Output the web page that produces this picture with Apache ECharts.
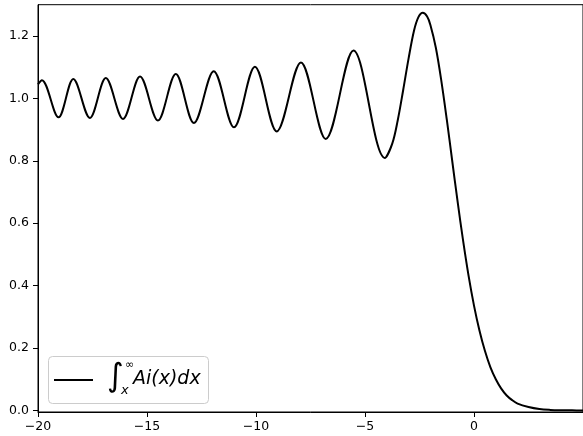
<!DOCTYPE html>
<html>
<head>
<meta charset="utf-8">
<script src="https://cdn.jsdelivr.net/npm/echarts@6/dist/echarts.min.js"></script>
<style>
  html, body { margin: 0; padding: 0; background: #fff; }
  #chart { width: 583px; height: 436px; }
</style>
</head>
<body>
<div id="chart"></div>
<script>
// Integral of the Airy function from x to infinity.
// Oscillating part: one sample per crest / trough; main peak, fall and tail sampled densely.
const xValues = [
  -20, -19.82, -19.06, -18.38, -17.62, -16.89, -16.10, -15.32, -14.50, -13.68,
  -12.85, -11.94, -11.01, -10.05, -9.05, -7.94, -6.80, -5.53, -4.09,
  -3.75, -3.50, -3.25, -3.00, -2.75, -2.55, -2.35, -2.15, -2.00, -1.75, -1.50,
  -1.25, -1.00, -0.75, -0.50, -0.25, 0.00, 0.25, 0.50, 0.75, 1.00,
  1.25, 1.50, 1.75, 2.00, 2.50, 3.00, 3.50, 4.00, 4.50, 5.00
];
const integralValues = [
  1.045, 1.058, 0.939, 1.062, 0.937, 1.065, 0.934, 1.070, 0.929, 1.078,
  0.921, 1.087, 0.907, 1.101, 0.894, 1.115, 0.870, 1.153, 0.809,
  0.855, 0.929, 1.026, 1.128, 1.217, 1.260, 1.274, 1.262, 1.235, 1.162, 1.057,
  0.933, 0.800, 0.668, 0.544, 0.432, 0.336, 0.256, 0.191, 0.139, 0.100,
  0.070, 0.048, 0.033, 0.022, 0.011, 0.0045, 0.0018, 0.0007, 0.0003, 0.0001
];
const xTicks = [-20, -15, -10, -5, 0];
const yTicks = [0.0, 0.2, 0.4, 0.6, 0.8, 1.0, 1.2];

const seriesData = xValues.map((x, i) => [x, integralValues[i]]);
const fmtMinus = v => (v < 0 ? '\u2212' + Math.abs(v) : String(v));

const chart = echarts.init(document.getElementById('chart'), null, { renderer: 'canvas' });
chart.setOption({
  animation: false,
  backgroundColor: '#ffffff',
  grid: {
    left: 38, top: 4.7, right: -5.3, bottom: 24,
    show: true, borderColor: '#000', borderWidth: 1, backgroundColor: 'transparent'
  },
  xAxis: {
    type: 'value', min: -20, max: 5,
    splitLine: { show: false },
    axisLine: { show: true, onZero: false, lineStyle: { color: '#000', width: 1 } },
    axisTick: { show: true, length: 5, lineStyle: { color: '#000' }, customValues: xTicks },
    axisLabel: {
      margin: 8, color: '#000', fontFamily: 'DejaVu Sans', fontSize: 12.5,
      customValues: xTicks, formatter: fmtMinus
    }
  },
  yAxis: {
    type: 'value', min: -0.005, max: 1.3,
    splitLine: { show: false },
    axisLine: { show: true, onZero: false, lineStyle: { color: '#000', width: 1 } },
    axisTick: { show: true, length: 5, lineStyle: { color: '#000' }, customValues: yTicks },
    axisLabel: {
      margin: 9, color: '#000', fontFamily: 'DejaVu Sans', fontSize: 12.5,
      customValues: yTicks, formatter: v => v.toFixed(1)
    }
  },
  series: [{
    name: 'integral',
    type: 'line',
    data: seriesData,
    smooth: 0.34,
    showSymbol: false,
    symbol: 'none',
    lineStyle: { color: '#000', width: 2 },
    clip: true
  }],
  graphic: [{
    type: 'group',
    left: 48, top: 356,
    children: [
      { type: 'rect', shape: { x: 0.5, y: 0.5, width: 160, height: 47, r: 4 },
        style: { fill: 'rgba(255,255,255,0.8)', stroke: '#cccccc', lineWidth: 1 } },
      { type: 'line', shape: { x1: 6, y1: 24, x2: 45, y2: 24 },
        style: { stroke: '#000', lineWidth: 2 } },
      { type: 'text', x: 59, y: 21.5, style: { text: '\u222B', font: '32px "DejaVu Sans"', fill: '#000', verticalAlign: 'middle' } },
      { type: 'text', x: 77, y: 9, style: { text: '\u221E', font: '11px "DejaVu Sans"', fill: '#000', verticalAlign: 'middle' } },
      { type: 'text', x: 73, y: 35, style: { text: 'x', font: 'italic 13px "DejaVu Sans"', fill: '#000', verticalAlign: 'middle' } },
      { type: 'text', x: 85, y: 14, style: { text: 'Ai(x)dx', font: 'italic 19px "DejaVu Sans"', fill: '#000', verticalAlign: 'top' } }
    ]
  }]
});
</script>
</body>
</html>
